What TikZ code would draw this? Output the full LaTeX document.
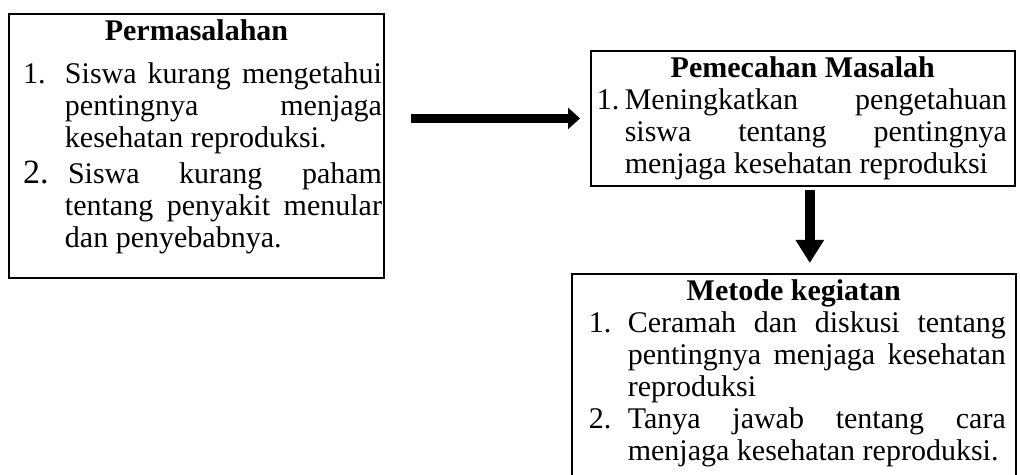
\documentclass[tikz,border=0pt]{standalone}
\usepackage{fontspec}
\setmainfont{Liberation Serif}
\usepackage{enumitem}
\usetikzlibrary{arrows.meta}

\begin{document}
\begin{tikzpicture}[x=1pt, y=1pt,
    panel/.style={rectangle, draw, line width=#1, anchor=north west, inner xsep=0pt, inner ysep=3pt, align=justify, font=\fontsize{15}{16}\selectfont},
    harrow/.style={-{Triangle[length=6pt,width=10.5pt]}, line width=4.5pt},
    varrow/.style={-{Triangle[length=11.5pt,width=13.5pt]}, line width=5pt}
    ]
    \useasboundingbox (0,0) rectangle (510,237.5);

    \node[panel=1pt, text width=187.5pt] (A) at (4,231) {
        {\centering\bfseries Permasalahan\par}
        \vspace{5.5pt}
        \begin{enumerate}[leftmargin=28pt, rightmargin=1pt, labelindent=7pt, labelwidth=10pt, labelsep=*, align=left, nosep, itemsep=2pt]
            \item Siswa kurang mengetahui\linebreak pentingnya menjaga\linebreak kesehatan reproduksi.
            \item[{\fontsize{17}{16}\selectfont 2.}] Siswa kurang paham\linebreak tentang penyakit menular\linebreak dan penyebabnya.
        \end{enumerate}
        \par\nointerlineskip\vbox to 9pt{}
    };

    \node[panel=0.8pt, text width=212pt] (B) at (295,212.5) {
        {\centering\bfseries Pemecahan Masalah\par}
        \begin{enumerate}[leftmargin=17pt, rightmargin=4pt, labelindent=3pt, labelwidth=10pt, labelsep=*, align=left, nosep]
            \item Meningkatkan pengetahuan\linebreak siswa tentang pentingnya\linebreak menjaga kesehatan reproduksi
        \end{enumerate}
    };

    \node[panel=0.8pt, text width=222pt] (C) at (285.5,101) {
        {\centering\bfseries Metode kegiatan\par}
        \begin{enumerate}[leftmargin=28pt, rightmargin=5pt, labelindent=8.5pt, labelwidth=10pt, labelsep=*, align=left, nosep]
            \item Ceramah dan diskusi tentang\linebreak pentingnya menjaga kesehatan\linebreak reproduksi
            \item Tanya jawab tentang cara\linebreak menjaga kesehatan reproduksi.
        \end{enumerate}
        \par\nointerlineskip\vbox to 15pt{}
    };

    \draw[harrow, shorten <=13pt, shorten >=5pt] (A.east |- B.west) -- (B.west);
    \draw[varrow, shorten <=1.5pt, shorten >=5pt] ([xshift=3.5pt]B.south) -- ([xshift=3.5pt]B.south |- C.north);
\end{tikzpicture}
\end{document}
